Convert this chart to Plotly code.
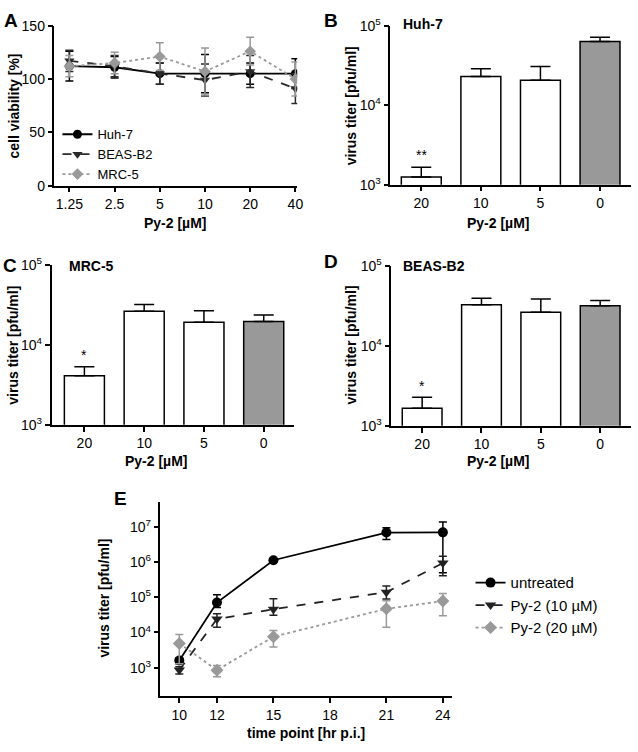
import plotly.graph_objects as go

W, H = 638, 752

# ---- panel A: cell viability
conc_a = ["1.25", "2.5", "5", "10", "20", "40"]
huh7_via = [112, 111, 105, 105, 105, 105]
huh7_via_err = [14, 10, 10, 18, 10, 14]
beas_via = [117, 112, 105, 99, 107, 91]
beas_via_err = [10, 10, 10, 15, 15, 14]
mrc5_via = [112, 115, 121, 107, 126, 100]
mrc5_via_err = [10, 10, 13, 22, 13, 16]

# ---- panels B, C, D: virus titer
conc_bar = ["20", "10", "5", "0"]
huh7_titer = [1250, 23000, 20600, 63000]
huh7_titer_err = [410, 5700, 10000, 8300]
mrc5_titer = [4100, 26300, 19100, 19500]
mrc5_titer_err = [1230, 5500, 7500, 4000]
beas_titer = [1660, 32500, 26200, 31600]
beas_titer_err = [620, 6700, 12300, 5100]
bar_fill = ["white", "white", "white", "#999999"]

# ---- panel E: growth kinetics
hours = [10, 12, 15, 21, 24]
untreated = [1600, 71000, 1130000, 6900000, 7000000]
untreated_up = [300, 47000, 80000, 2500000, 6800000]
untreated_down = [300, 20000, 80000, 2500000, 6500000]
py10 = [860, 24000, 46000, 140000, 940000]
py10_up = [200, 10000, 45000, 70000, 530000]
py10_down = [200, 10000, 15000, 50000, 530000]
py20 = [4900, 850, 7600, 47000, 78000]
py20_up = [3800, 300, 3700, 33000, 50000]
py20_down = [3600, 300, 3700, 33000, 48000]

FONT = "Liberation Sans, Arial, sans-serif"


def px(x):
    return x / W


def py(y):
    return 1 - y / H


fig = go.Figure()

# panel A
for name, vals, err, col, dash, sym in [
    ("Huh-7", huh7_via, huh7_via_err, "black", "solid", "circle"),
    ("BEAS-B2", beas_via, beas_via_err, "#2b2b2b", "dash", "triangle-down"),
    ("MRC-5", mrc5_via, mrc5_via_err, "#999999", "dot", "diamond"),
]:
    fig.add_trace(go.Scatter(
        x=conc_a, y=vals, name=name, mode="lines+markers",
        line=dict(color=col, width=1.8, dash=dash),
        marker=dict(symbol=sym, size=9, color=col),
        error_y=dict(type="data", array=err, color=col, thickness=1.5, width=4),
        xaxis="x", yaxis="y", legend="legend"))

# panels B, C, D
for ax, vals, err in [("2", huh7_titer, huh7_titer_err),
                      ("3", mrc5_titer, mrc5_titer_err),
                      ("4", beas_titer, beas_titer_err)]:
    fig.add_trace(go.Bar(
        x=conc_bar, y=vals, showlegend=False,
        marker=dict(color=bar_fill, line=dict(color="black", width=1.5)),
        error_y=dict(type="data", array=err, arrayminus=[0] * len(err),
                     symmetric=False, color="black", thickness=1.5, width=10),
        xaxis="x" + ax, yaxis="y" + ax))

# panel E
for name, vals, up, down, col, dash, sym in [
    ("untreated", untreated, untreated_up, untreated_down, "black", "solid", "circle"),
    ("Py-2 (10 µM)", py10, py10_up, py10_down, "#222222", "dash", "triangle-down"),
    ("Py-2 (20 µM)", py20, py20_up, py20_down, "#999999", "dot", "diamond"),
]:
    fig.add_trace(go.Scatter(
        x=hours, y=vals, name=name, mode="lines+markers",
        line=dict(color=col, width=1.8, dash=dash),
        marker=dict(symbol=sym, size=10, color=col),
        error_y=dict(type="data", array=up, arrayminus=down, symmetric=False,
                     color=col, thickness=1.5, width=4),
        xaxis="x5", yaxis="y5", legend="legend2"))

axis_style = dict(showline=True, linecolor="black", linewidth=1.5, ticks="outside",
                  ticklen=5, tickwidth=1.5, tickcolor="black", showgrid=False,
                  zeroline=False, tickfont=dict(family=FONT, size=14, color="black"))
log_ticks = dict(type="log", tickvals=[1e3, 1e4, 1e5, 1e6, 1e7],
                 ticktext=["10<sup>3</sup>", "10<sup>4</sup>", "10<sup>5</sup>",
                           "10<sup>6</sup>", "10<sup>7</sup>"])

fig.update_layout(
    width=W, height=H, margin=dict(l=0, r=0, t=0, b=0),
    paper_bgcolor="white", plot_bgcolor="white",
    font=dict(family=FONT, color="black"),
    bargap=0.33,
    xaxis=dict(domain=[px(55), px(300)], anchor="y", range=[-0.33, 5.04], **axis_style),
    yaxis=dict(domain=[py(180), py(16)], anchor="x", range=[0, 150],
               tickvals=[0, 50, 100, 150], **axis_style),
    xaxis2=dict(domain=[px(394), px(637)], anchor="y2", range=[-0.52, 3.52], **axis_style),
    yaxis2=dict(domain=[py(179), py(16)], anchor="x2", range=[3, 5], **log_ticks, **axis_style),
    xaxis3=dict(domain=[px(52), px(297)], anchor="y3", range=[-0.55, 3.51], **axis_style),
    yaxis3=dict(domain=[py(425), py(261)], anchor="x3", range=[3, 5], **log_ticks, **axis_style),
    xaxis4=dict(domain=[px(395), px(637)], anchor="y4", range=[-0.52, 3.52], **axis_style),
    yaxis4=dict(domain=[py(426), py(262)], anchor="x4", range=[3, 5], **log_ticks, **axis_style),
    xaxis5=dict(domain=[px(162), px(456)], anchor="y5", range=[9.0, 24.47],
                tickvals=[10, 12, 15, 18, 21, 24], **axis_style),
    yaxis5=dict(domain=[py(703), py(504)], anchor="x5", range=[2.19, 7.71], **log_ticks, **axis_style),
    legend=dict(x=px(58), y=py(112), xanchor="left", yanchor="top",
                bgcolor="rgba(0,0,0,0)", font=dict(family=FONT, size=13),
                tracegroupgap=0, itemwidth=30),
    legend2=dict(x=px(475), y=py(570), xanchor="left", yanchor="top",
                 bgcolor="rgba(0,0,0,0)", font=dict(family=FONT, size=15),
                 tracegroupgap=0, itemwidth=30),
)

ann = []
# panel letters
for t, x, y in [("A", 11, 11), ("B", 334, 11), ("C", 10, 262), ("D", 334, 258), ("E", 122, 500)]:
    ann.append(dict(text=t, x=px(x), y=py(y), font=dict(size=19, family=FONT, weight="bold")))
# panel titles
for t, x, y in [("Huh-7", 405, 14), ("MRC-5", 68, 262), ("BEAS-B2", 405, 262)]:
    ann.append(dict(text=t, x=px(x), y=py(y), xanchor="left",
                    font=dict(size=14, family=FONT, weight="bold")))
# x axis titles
for t, x, y in [("Py-2 [µM]", 177, 218), ("Py-2 [µM]", 503, 218), ("Py-2 [µM]", 158, 462),
                ("Py-2 [µM]", 503, 462), ("time point [hr p.i.]", 309, 741)]:
    ann.append(dict(text=t, x=px(x), y=py(y), font=dict(size=14, family=FONT, weight="bold")))
# y axis titles
for t, x, y in [("cell viability [%]", 14, 98), ("virus titer [pfu/ml]", 354, 98),
                ("virus titer [pfu/ml]", 13, 343), ("virus titer [pfu/ml]", 354, 343),
                ("virus titer [pfu/ml]", 105, 603)]:
    ann.append(dict(text=t, x=px(x), y=py(y), textangle=-90,
                    font=dict(size=14, family=FONT, weight="bold")))
for a in ann:
    a.update(xref="paper", yref="paper", showarrow=False,
             **({} if "xanchor" in a else {"xanchor": "center"}), yanchor="middle")

# significance marks above the 20 µM bars (category index 0)
for xr, yr, mark, ytop in [("x2", "y2", "**", 3.23), ("x3", "y3", "*", 3.73), ("x4", "y4", "*", 3.36)]:
    ann.append(dict(text=mark, x=0, y=ytop, xref=xr, yref=yr, showarrow=False,
                    font=dict(size=14, family=FONT), yanchor="bottom", yshift=1))
fig.update_layout(annotations=ann)

fig.write_html("out.html", config={"displayModeBar": False},
               post_script="document.body.style.margin='0px';")
